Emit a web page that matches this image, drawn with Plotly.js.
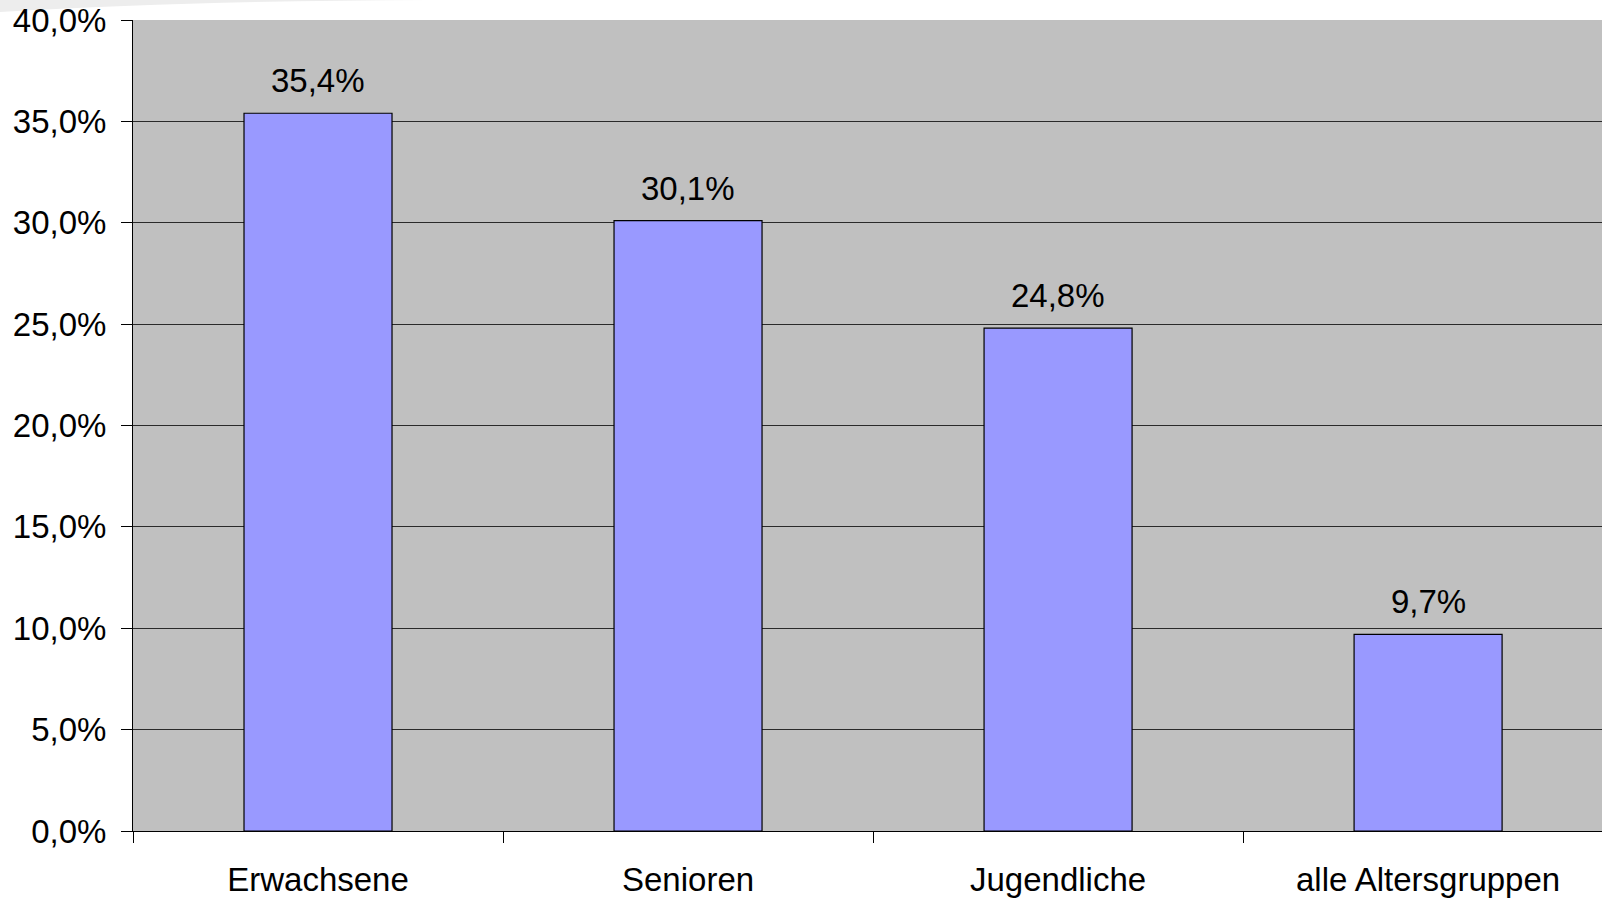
<!DOCTYPE html>
<html>
<head>
<meta charset="utf-8">
<script src="https://cdn.plot.ly/plotly-3.0.1.min.js"></script>
<style>html,body{margin:0;padding:0;background:#fff;}#chart{width:1602px;height:900px;}</style>
</head>
<body>
<div id="chart"></div>
<script>
const categories = ["Erwachsene", "Senioren", "Jugendliche", "alle Altersgruppen"];
const values = [35.4, 30.1, 24.8, 9.7];

const font = "Liberation Sans, Arial, sans-serif";

const trace = {
  type: "bar",
  x: categories,
  y: values,
  width: 0.4,
  marker: {color: "#9999ff", line: {color: "#000000", width: 1.2}},
  hoverinfo: "skip"
};

const annotations = categories.map((c, i) => ({
  x: c, y: values[i], xref: "x", yref: "y",
  text: values[i].toFixed(1).replace(".", ",") + "%",
  showarrow: false, yanchor: "bottom", yshift: 12,
  font: {family: font, size: 33, color: "#000"}
}));

const layout = {
  width: 1602, height: 900,
  margin: {l: 133, r: 0, t: 20, b: 69},
  paper_bgcolor: "#ffffff",
  plot_bgcolor: "#c0c0c0",
  separators: ",.",
  showlegend: false,
  font: {family: font, size: 33, color: "#000"},
  xaxis: {
    type: "category",
    range: [-0.5, 3.47],
    tickson: "boundaries",
    ticks: "outside", ticklen: 11, tickcolor: "#000", tickwidth: 1,
    showline: true, linecolor: "#000", linewidth: 1,
    showgrid: false, zeroline: false,
    ticklabelstandoff: 19,
    tickfont: {family: font, size: 33, color: "#000"}
  },
  yaxis: {
    range: [0, 40], dtick: 5, tick0: 0,
    tickformat: ".1f", ticksuffix: "%",
    ticks: "outside", ticklen: 11, tickcolor: "#000", tickwidth: 1,
    showline: true, linecolor: "#000", linewidth: 1,
    showgrid: true, gridcolor: "#2a2a2a", gridwidth: 1,
    zeroline: false,
    ticklabelstandoff: 8,
    tickfont: {family: font, size: 33, color: "#000"}
  },
  annotations: annotations,
  shapes: [{
    type: "path", xref: "paper", yref: "paper", layer: "below",
    path: "M -0.0906 1.0247 L -0.0906 1.0100 Q 0.05 1.0247 0.22 1.0247 Z",
    fillcolor: "#ededed", line: {width: 0}
  }]
};

Plotly.newPlot("chart", [trace], layout, {displayModeBar: false, staticPlot: true});
</script>
</body>
</html>
